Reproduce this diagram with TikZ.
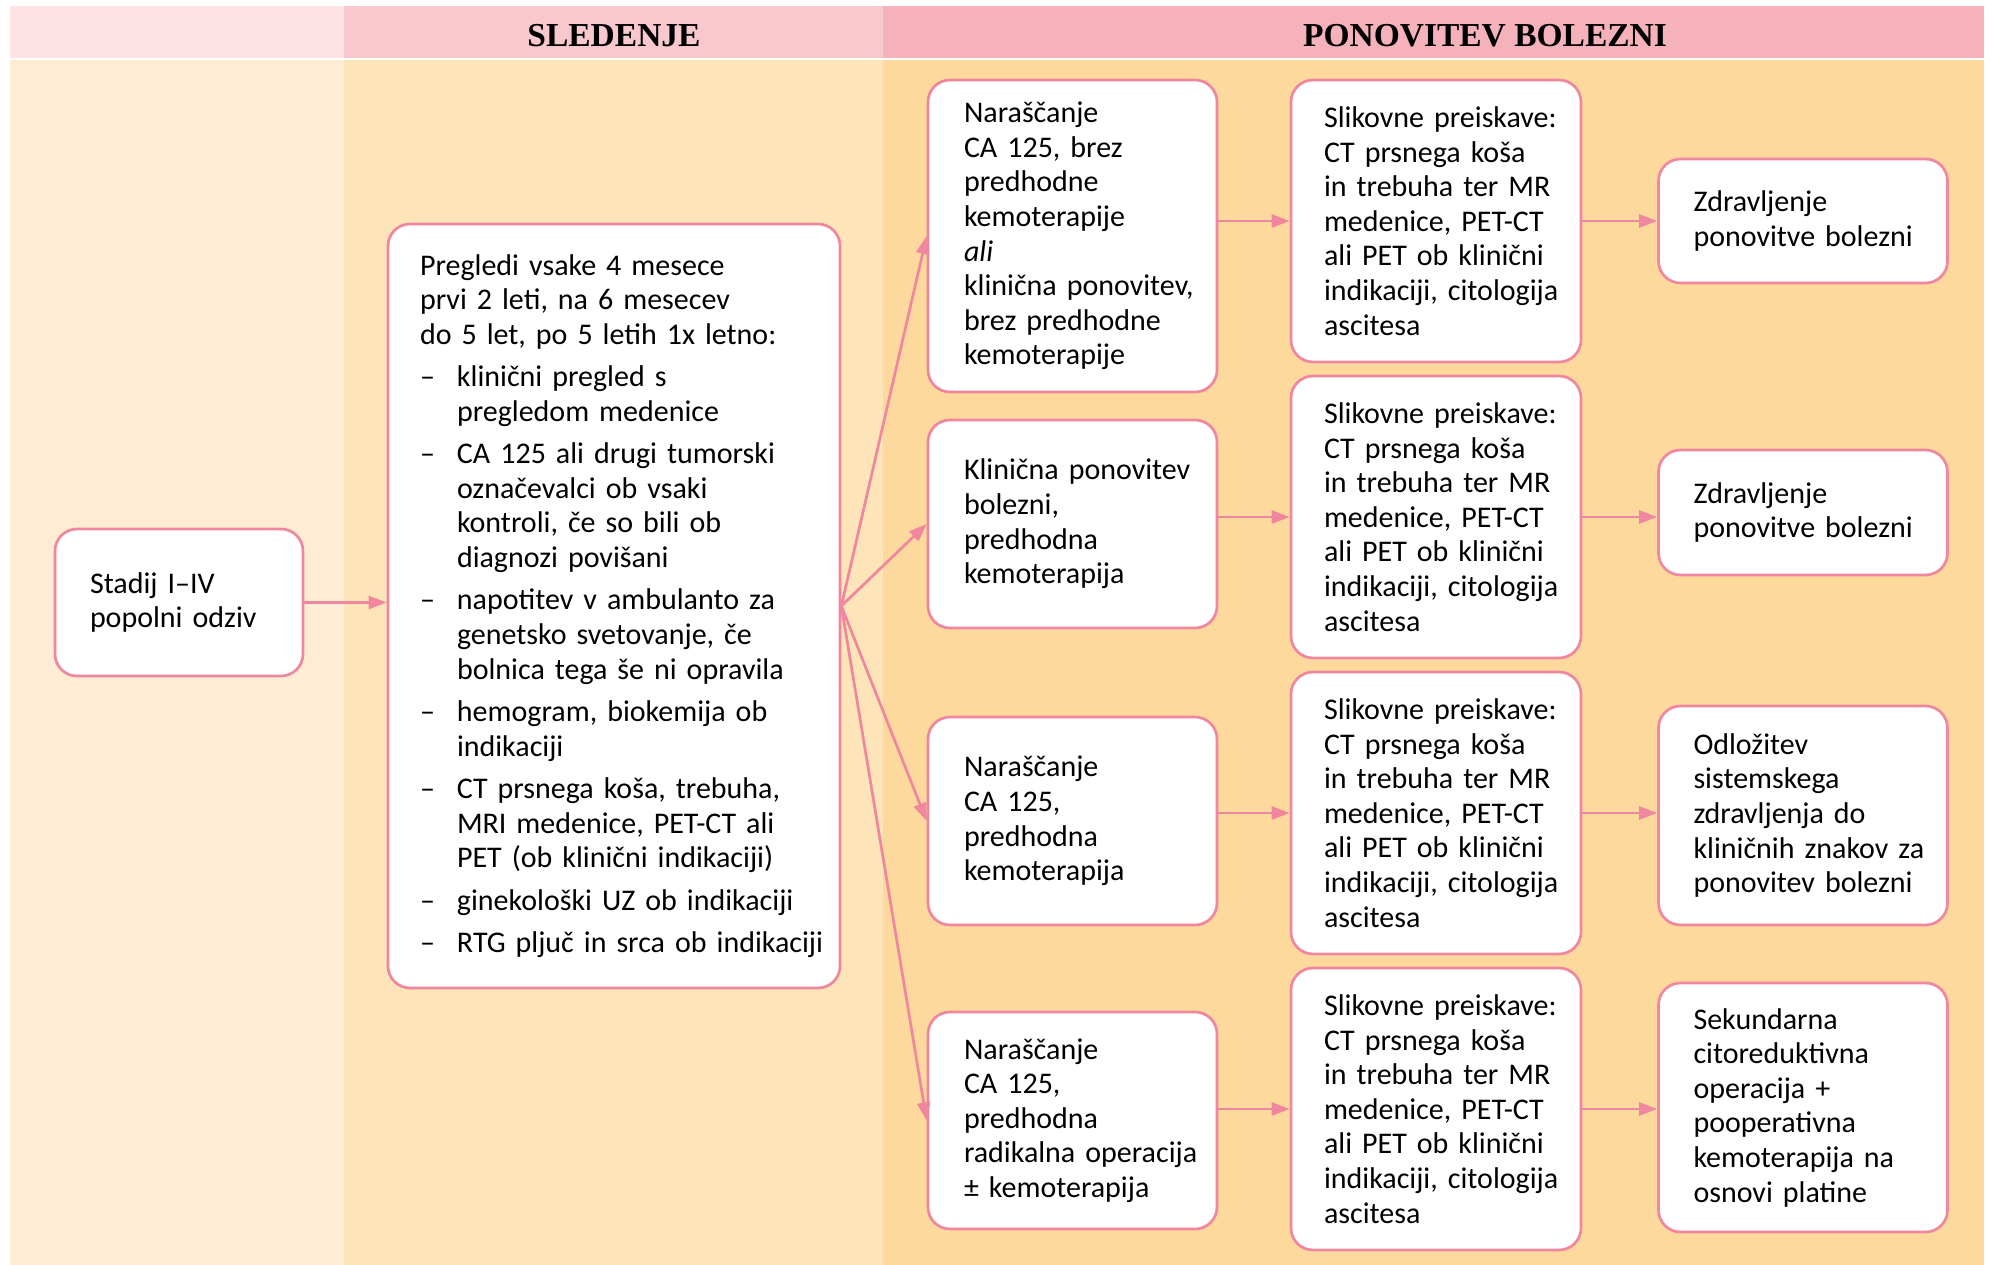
\documentclass[tikz,border=0pt]{standalone}
\usepackage{fontspec}
\setmainfont{Carlito}
\newfontfamily\hdfont{Liberation Serif}
\usetikzlibrary{arrows.meta}
\definecolor{pk}{HTML}{F0879F}
\definecolor{hA}{HTML}{FDE3E3}
\definecolor{hB}{HTML}{F9C8CF}
\definecolor{hC}{HTML}{F6B2BB}
\definecolor{bA}{HTML}{FEEDD4}
\definecolor{bB}{HTML}{FEE4B9}
\definecolor{bC}{HTML}{FDD99D}
\newcommand\litem[1]{\par\vspace{7.8pt}\hangindent=37pt\hangafter=1\noindent\makebox[37pt][l]{–}#1}
\begin{document}
\begin{tikzpicture}[x=1pt,y=-1pt,
  box/.style={draw=pk, line width=2.7pt, fill=white, rounded corners=22pt,
    inner xsep=0pt, inner ysep=0pt, align=left,
    font=\fontsize{30}{34.6}\selectfont},
  lpad/.style={execute at begin node={\leftskip=#1pt\relax}},
  arr/.style={draw=pk, line width=2.7pt, -{Triangle[length=18pt,width=13pt]}},
  hdr/.style={font=\hdfont\bfseries\fontsize{33.5}{36}\selectfont, anchor=base}]
\useasboundingbox (0,0) rectangle (1990,1265);
% background columns
\fill[hA] (10,6) rectangle (344,58.3);
\fill[hB] (344,6) rectangle (883,58.3);
\fill[hC] (883,6) rectangle (1984,58.3);
\fill[bA] (10,59.6) rectangle (344,1265);
\fill[bB] (344,59.6) rectangle (883,1265);
\fill[bC] (883,59.6) rectangle (1984,1265);
\node[hdr] (h1) at (614,46.7) {SLEDENJE};
\node[hdr] (h2) at (1485,46.7) {PONOVITEV BOLEZNI};
% column 1
\node[box, lpad=35, text width=248pt, minimum height=147pt] (st) at (179,602.5) {Stadij I–IV\\popolni odziv};
% column 2
\node[box, lpad=32, text width=452pt, minimum height=764pt] (pr) at (614,606) {Pregledi vsake 4 mesece\\prvi 2 leti, na 6 mesecev\\do 5 let, po 5 letih 1x letno:
\litem{klinični pregled s\newline pregledom medenice}
\litem{CA 125 ali drugi tumorski\newline označevalci ob vsaki\newline kontroli, če so bili ob\newline diagnozi povišani}
\litem{napotitev v ambulanto za\newline genetsko svetovanje, če\newline bolnica tega še ni opravila}
\litem{hemogram, biokemija ob\newline indikaciji}
\litem{CT prsnega koša, trebuha,\newline MRI medenice, PET-CT ali\newline PET (ob klinični indikaciji)}
\litem{ginekološki UZ ob indikaciji}
\litem{RTG pljuč in srca ob indikaciji}};
% column 3
\node[box, lpad=36, text width=289pt, minimum height=312pt] (b1) at (1072.5,236) {Naraščanje\\CA 125, brez\\predhodne\\kemoterapije\\\textit{ali}\\klinična ponovitev,\\brez predhodne\\kemoterapije};
\node[box, lpad=36, text width=289pt, minimum height=208pt] (b2) at (1072.5,524) {Klinična ponovitev\\bolezni,\\predhodna\\kemoterapija};
\node[box, lpad=36, text width=289pt, minimum height=208pt] (b3) at (1072.5,821) {Naraščanje\\CA 125,\\predhodna\\kemoterapija};
\node[box, lpad=36, text width=289pt, minimum height=217pt] (b4) at (1072.5,1120.5) {Naraščanje\\CA 125,\\predhodna\\radikalna operacija\\± kemoterapija};
% column 4
\foreach \n/\y in {s1/221, s2/517, s3/813, s4/1109}{
  \node[box, lpad=33, text width=290pt, minimum height=282pt] (\n) at (1436,\y) {Slikovne preiskave:\\CT prsnega koša\\in trebuha ter MR\\medenice, PET-CT\\ali PET ob klinični\\indikaciji, citologija\\ascitesa};
}
% column 5
\node[box, lpad=35, text width=289pt, minimum height=124pt] (r1) at (1803,221) {Zdravljenje\\ponovitve bolezni};
\node[box, lpad=35, text width=289pt, minimum height=125pt] (r2) at (1803,512.5) {Zdravljenje\\ponovitve bolezni};
\node[box, lpad=35, text width=289pt, minimum height=219pt] (r3) at (1803,815.5) {Odložitev\\sistemskega\\zdravljenja do\\kliničnih znakov za\\ponovitev bolezni};
\node[box, lpad=35, text width=289pt, minimum height=249pt] (r4) at (1803,1107.5) {Sekundarna\\citoreduktivna\\operacija +\\pooperativna\\kemoterapija na\\osnovi platine};
% connectors
\draw[arr] (st.east) -- (st.east -| pr.west);
\foreach \b in {b1,b2,b3,b4}{\draw[arr] (pr.east) -- (\b.west);}
\foreach \b/\s/\r in {b1/s1/r1, b2/s2/r2, b3/s3/r3, b4/s4/r4}{
  \draw[arr] (\s.west -| \b.east) -- (\s.west);
  \draw[arr] (\s.east) -- (\s.east -| \r.west);
}
\end{tikzpicture}
\end{document}
